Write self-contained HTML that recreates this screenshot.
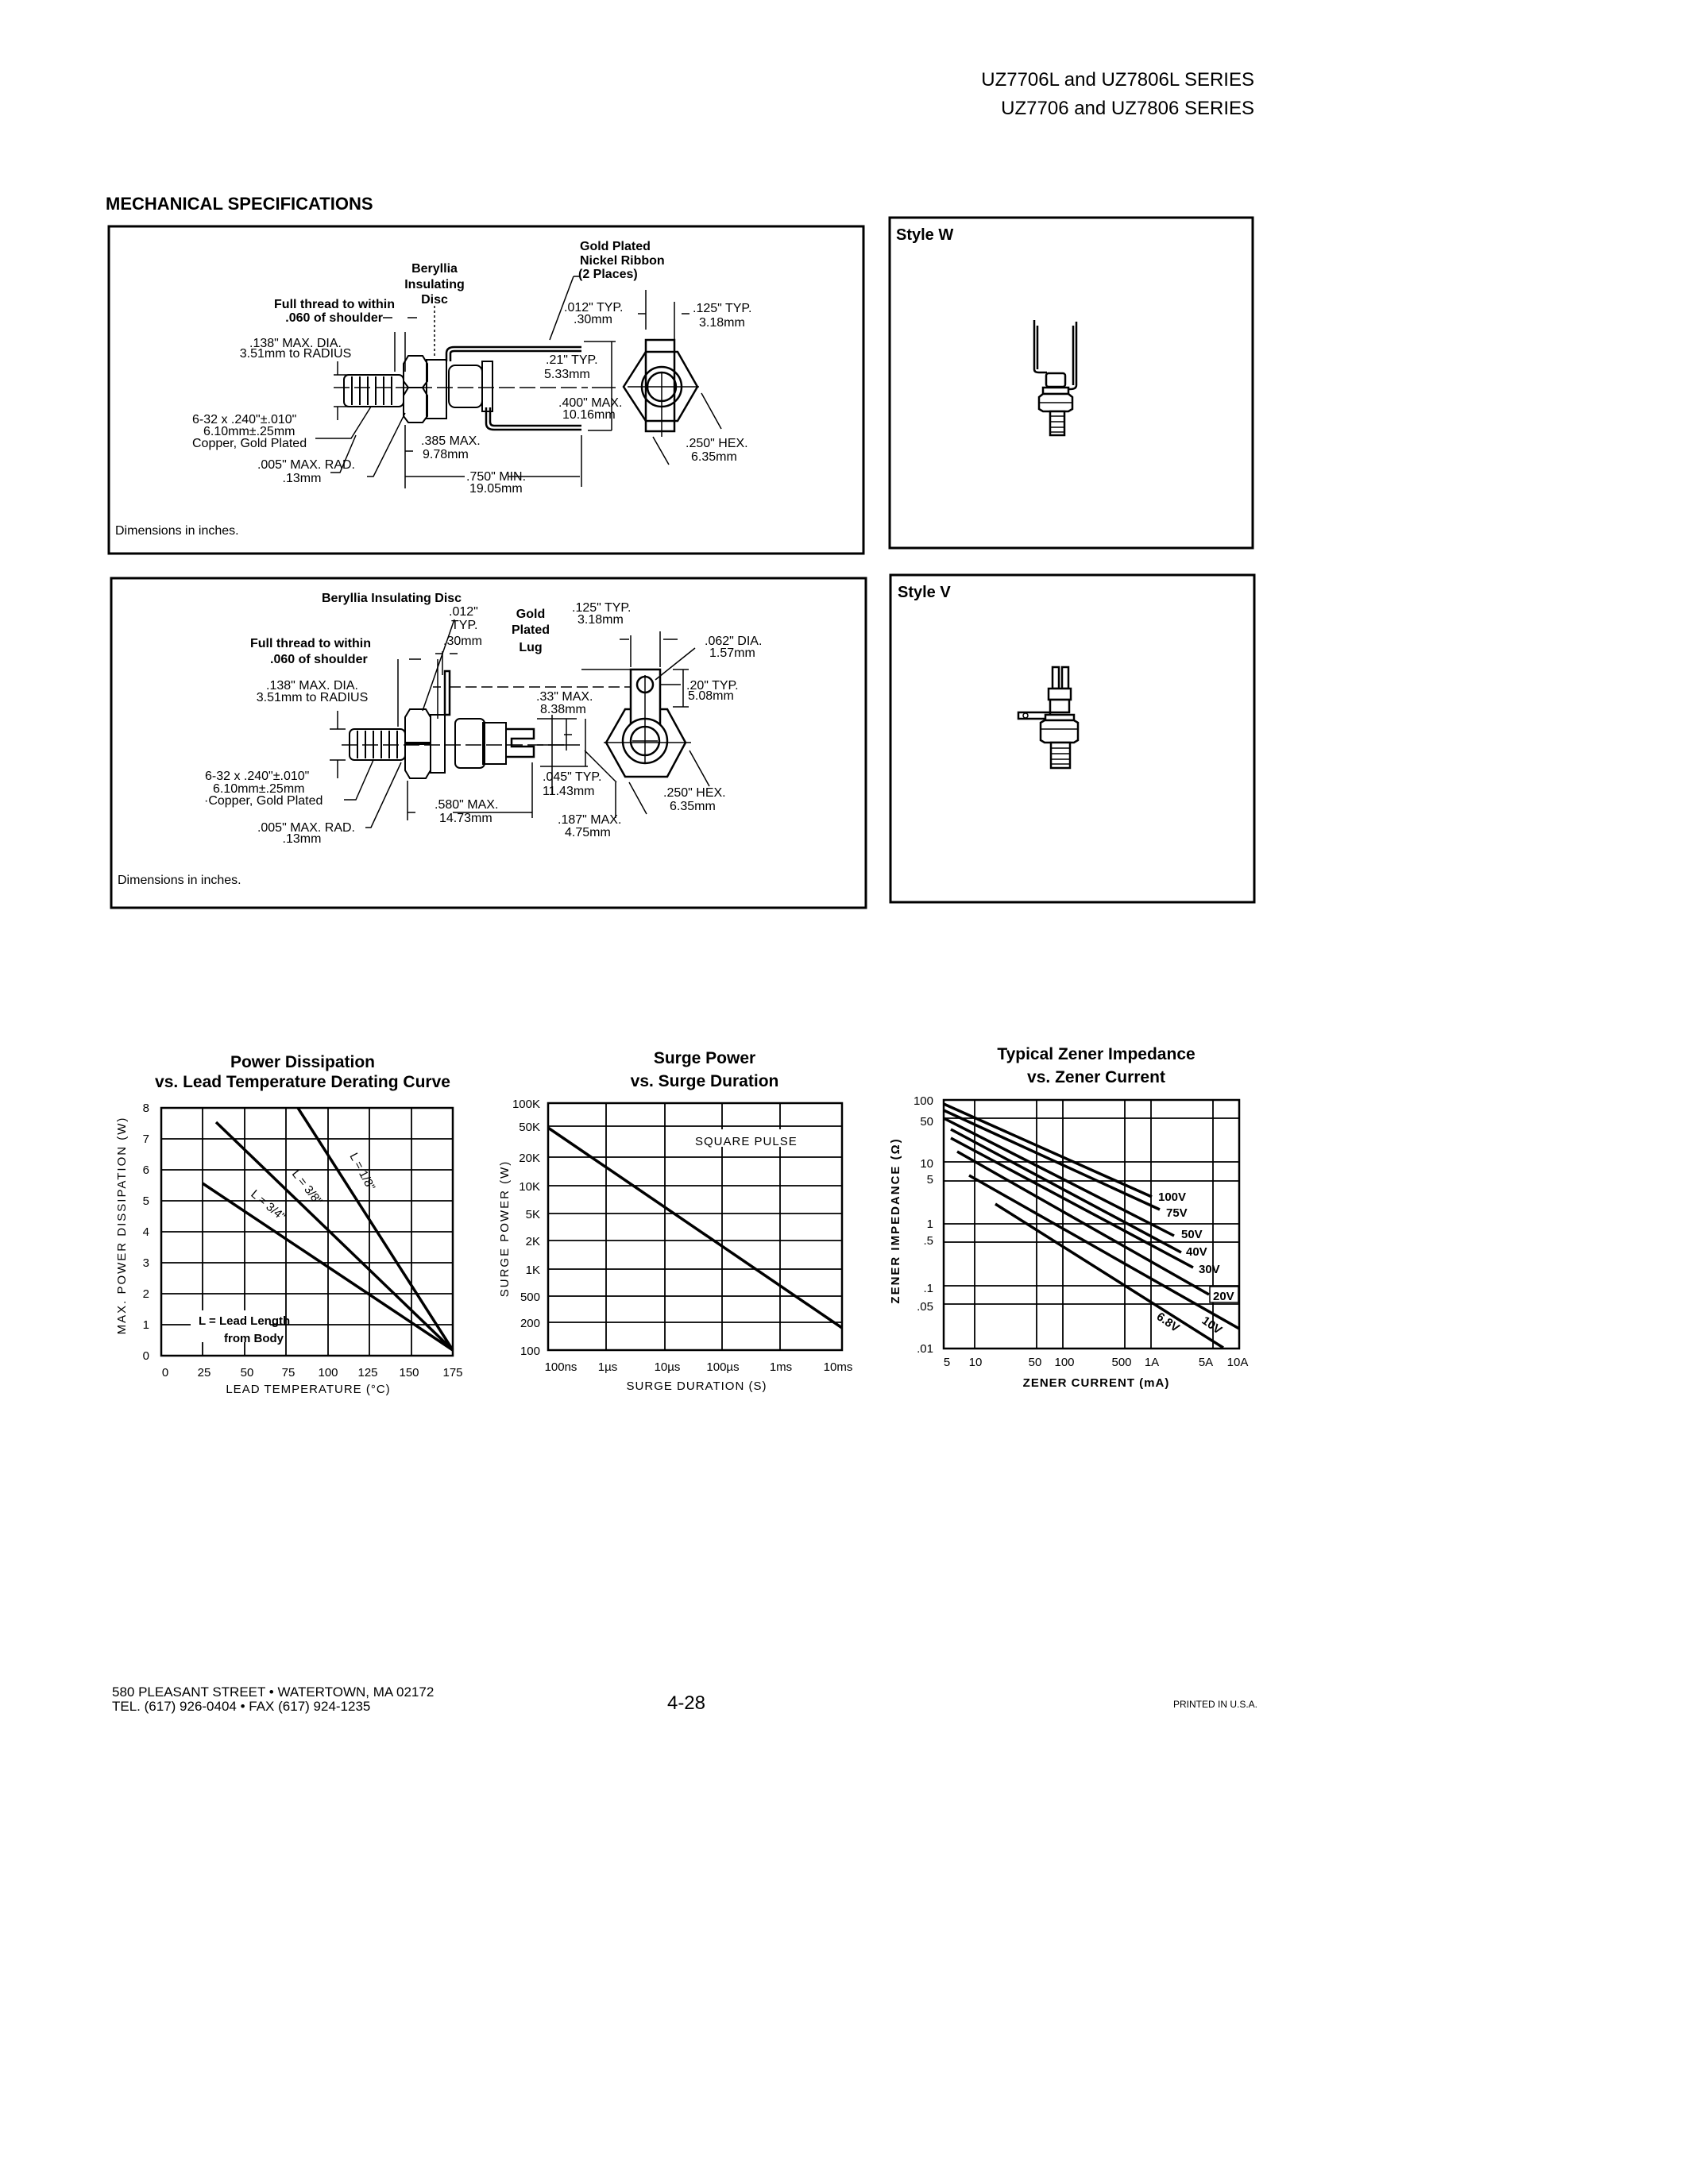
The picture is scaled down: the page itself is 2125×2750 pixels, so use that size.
<!DOCTYPE html>
<html><head><meta charset="utf-8"><style>
html,body{margin:0;padding:0;background:#fff}
svg{display:block}
text{font-family:"Liberation Sans Narrow","Liberation Sans",sans-serif;fill:#000}
.b{font-weight:bold}
.s{font-size:16px}
.t{font-size:15px}
</style></head><body>
<svg width="2125" height="2750" viewBox="0 0 2125 2750" xmlns="http://www.w3.org/2000/svg">
<rect width="2125" height="2750" fill="#fff"/>
<!-- header -->
<text x="1579" y="108" font-size="24" text-anchor="end">UZ7706L and UZ7806L SERIES</text>
<text x="1579" y="144" font-size="24" text-anchor="end">UZ7706  and UZ7806  SERIES</text>
<text x="133" y="264" font-size="22" class="b">MECHANICAL SPECIFICATIONS</text>

<!-- boxes -->
<g fill="none" stroke="#000" stroke-width="3">
<rect x="137" y="285" width="950" height="412"/>
<rect x="1120" y="274" width="457" height="416"/>
<rect x="140" y="728" width="950" height="415"/>
<rect x="1121" y="724" width="458" height="412"/>
</g>
<text x="1128" y="302" font-size="20" class="b">Style W</text>
<text x="1130" y="752" font-size="20" class="b">Style V</text>
<text x="145" y="673" class="s">Dimensions in inches.</text>
<text x="148" y="1113" class="s">Dimensions in inches.</text>

<!-- BOX 1 drawing -->
<g fill="none" stroke="#000" stroke-width="2">
<rect x="433" y="472" width="75" height="40" rx="6"/>
<path d="M443 474v36M453 474v36M463 474v36M473 474v36M483 474v36M493 474v36"/>
<path d="M514 448h18l6 10v22l-6 8h-18l-6-8v-22z"/>
<path d="M514 488h18l6 10v26l-6 8h-18l-6-8v-26z"/>
<rect x="537" y="453" width="25" height="74"/>
<rect x="565" y="460" width="42" height="53" rx="8"/>
<rect x="607" y="455" width="13" height="63"/>
<path d="M562 455v-10q0-8 10-8h160M567 455v-10q0-3 5-3h160" stroke-width="2.5"/>
<path d="M612 513v20q0 8 10 8h110M617 513v18q0 5 5 5h110" stroke-width="2.5"/>
<path d="M420 488h320" stroke-dasharray="20,6" stroke-width="1.5"/>
<path d="M420 472h20M420 512h20M425 455v17M425 529v-17" stroke-width="1.5"/>
<path d="M497 418v50M510 418v50M482 400h12M513 400h12" stroke-width="1.5"/>
<path d="M547 385v65" stroke-dasharray="3,3" stroke-width="1.5"/>
<path d="M448 548l-20 47h-12M510 520l-40 80h-8M467 512l-25 40h-45" stroke-width="1.5"/>
<path d="M510 535v80M510 568h10M510 600h75M732 548v65M640 600h90" stroke-width="1.5"/>
<path d="M722 348l-30 80M722 348h8" stroke-width="1.5"/>
<!-- right view -->
<path d="M785 487l28-44h40l25 44-25 43h-40z" stroke-width="2.5"/>
<rect x="813" y="428" width="36" height="115" stroke-width="2.5"/>
<circle cx="833" cy="487" r="25" stroke-width="2.5"/>
<circle cx="833" cy="487" r="18" stroke-width="2.5"/>
<path d="M790 487h90M833 470v80" stroke-width="1.5"/>
<path d="M813 365v50M849 380v50M803 395h10M858 395h10" stroke-width="1.5"/>
<path d="M735 430h40M770 430v112M740 542h30M745 488h30" stroke-width="1.5"/>
<path d="M883 495l25 45M822 550l20 35" stroke-width="1.5"/>
</g>
<g class="s">
<text x="547" y="343" text-anchor="middle" class="b">Beryllia</text>
<text x="547" y="363" text-anchor="middle" class="b">Insulating</text>
<text x="547" y="382" text-anchor="middle" class="b">Disc</text>
<text x="497" y="388" text-anchor="end" class="b">Full thread to within</text>
<text x="482" y="405" text-anchor="end" class="b">.060 of shoulder</text>
<text x="372" y="437" text-anchor="middle">.138" MAX. DIA.</text>
<text x="372" y="450" text-anchor="middle">3.51mm to RADIUS</text>
<text x="242" y="533">6-32 x .240"±.010"</text>
<text x="256" y="548">6.10mm±.25mm</text>
<text x="242" y="563">Copper, Gold Plated</text>
<text x="447" y="590" text-anchor="end">.005" MAX. RAD.</text>
<text x="380" y="607" text-anchor="middle">.13mm</text>
<text x="530" y="560">.385 MAX.</text>
<text x="532" y="577">9.78mm</text>
<text x="587" y="605">.750" MIN.</text>
<text x="591" y="620">19.05mm</text>
<text x="730" y="315" class="b">Gold Plated</text>
<text x="730" y="333" class="b">Nickel Ribbon</text>
<text x="728" y="350" class="b">(2 Places)</text>
<text x="710" y="392">.012" TYP.</text>
<text x="722" y="407">.30mm</text>
<text x="872" y="393">.125" TYP.</text>
<text x="880" y="411">3.18mm</text>
<text x="687" y="458">.21" TYP.</text>
<text x="685" y="476">5.33mm</text>
<text x="703" y="512">.400" MAX.</text>
<text x="708" y="527">10.16mm</text>
<text x="863" y="563">.250" HEX.</text>
<text x="870" y="580">6.35mm</text>
</g>

<!-- BOX 2 drawing -->
<g fill="none" stroke="#000" stroke-width="2">
<rect x="440" y="918" width="70" height="39" rx="6"/>
<path d="M450 920v35M460 920v35M470 920v35M480 920v35M490 920v35M500 920v35"/>
<path d="M516 893h20l6 10v32h-32v-32z"/>
<path d="M510 937h32v33l-6 10h-20l-6-10z"/>
<rect x="542" y="900" width="18" height="73"/>
<rect x="560" y="845" width="6" height="55" stroke-width="2.5"/>
<rect x="573" y="905" width="37" height="62" rx="6"/>
<rect x="608" y="910" width="29" height="52"/>
<path d="M637 918h35v12h-28v10h28v13h-35" stroke-width="2.5"/>
<path d="M430 938h300" stroke-dasharray="20,6" stroke-width="1.5"/>
<path d="M415 918h20M415 957h20M425 895v23M425 980v-23" stroke-width="1.5"/>
<path d="M501 830v85M551 830v75M515 830h15M548 823h10M566 823h10M557 820v30" stroke-width="1.5"/>
<path d="M545 865h10M566 865h230" stroke-dasharray="14,6" stroke-width="1.5"/>
<path d="M572 780l-40 115" stroke-width="1.5"/>
<path d="M470 957l-22 50h-15M505 960l-38 82h-7" stroke-width="1.5"/>
<path d="M513 983v50M513 1023h10M570 1023h100M670 960v70" stroke-width="1.5"/>
<path d="M676 905h50M713 905v40M710 925h10M737 905v60M676 938h40M680 965h60M695 900l0 100M736 945l40 40M775 985v45" stroke-width="1.5"/>
<!-- right view -->
<path d="M763 935l24-42h53l23 42-23 43h-53z" stroke-width="2.5"/>
<rect x="794" y="843" width="37" height="74" stroke-width="2.5" fill="#fff"/>
<circle cx="812" cy="862" r="10" stroke-width="2.5"/>
<circle cx="812" cy="933" r="28" stroke-width="2.5" fill="#fff"/>
<circle cx="812" cy="933" r="18" stroke-width="2.5"/>
<path d="M796 933h32M760 935h110M812 850v110" stroke-width="1.5"/>
<path d="M794 800v40M831 795v45M780 805h12M835 805h18M832 862h25M732 843h95M847 843h20M847 890h20M860 843v47" stroke-width="1.5"/>
<path d="M825 856l50-40M868 945l25 45M792 985l22 40" stroke-width="1.5"/>
</g>
<g class="s">
<text x="405" y="758" class="b">Beryllia Insulating Disc</text>
<text x="565" y="775">.012"</text>
<text x="568" y="792">TYP.</text>
<text x="558" y="812">.30mm</text>
<text x="315" y="815" class="b">Full thread to within</text>
<text x="340" y="835" class="b">.060 of shoulder</text>
<text x="393" y="868" text-anchor="middle">.138" MAX. DIA.</text>
<text x="393" y="883" text-anchor="middle">3.51mm to RADIUS</text>
<text x="258" y="982">6-32 x .240"±.010"</text>
<text x="268" y="998">6.10mm±.25mm</text>
<text x="257" y="1013">·Copper, Gold Plated</text>
<text x="447" y="1047" text-anchor="end">.005" MAX. RAD.</text>
<text x="380" y="1061" text-anchor="middle">.13mm</text>
<text x="547" y="1018">.580" MAX.</text>
<text x="553" y="1035">14.73mm</text>
<text x="668" y="778" text-anchor="middle" class="b">Gold</text>
<text x="668" y="798" text-anchor="middle" class="b">Plated</text>
<text x="668" y="820" text-anchor="middle" class="b">Lug</text>
<text x="720" y="770">.125" TYP.</text>
<text x="727" y="785">3.18mm</text>
<text x="887" y="812">.062" DIA.</text>
<text x="893" y="827">1.57mm</text>
<text x="864" y="868">.20" TYP.</text>
<text x="866" y="881">5.08mm</text>
<text x="675" y="882">.33" MAX.</text>
<text x="680" y="898">8.38mm</text>
<text x="683" y="983">.045" TYP.</text>
<text x="683" y="1001">11.43mm</text>
<text x="702" y="1037">.187" MAX.</text>
<text x="711" y="1053">4.75mm</text>
<text x="835" y="1003">.250" HEX.</text>
<text x="843" y="1020">6.35mm</text>
</g>

<!-- Style W device -->
<g fill="#fff" stroke="#000" stroke-width="2.5">
<path d="M1302 403v62q0 4 6 4h10M1306 410v55" fill="none"/>
<path d="M1355 405v80q0 5-8 5h-6M1351 410v75" fill="none"/>
<rect x="1317" y="470" width="24" height="17" rx="3"/>
<rect x="1313" y="488" width="32" height="8"/>
<path d="M1308 500l5-4h32l5 4v15l-5 3h-32l-5-3z"/>
<rect x="1322" y="518" width="18" height="30"/>
<path d="M1322 524h18M1322 531h18M1322 538h18M1322 544h18M1308 507h42" fill="none" stroke-width="1.5"/>
</g>
<!-- Style V device -->
<g fill="#fff" stroke="#000" stroke-width="2.5">
<rect x="1325" y="840" width="8" height="27"/>
<rect x="1337" y="840" width="8" height="27"/>
<rect x="1320" y="867" width="28" height="14"/>
<rect x="1322" y="881" width="24" height="16"/>
<path d="M1282 897h40v8h-40z"/>
<circle cx="1291" cy="901" r="3" stroke-width="1.5"/>
<path d="M1316 900h36v7h-36z"/>
<path d="M1310 910l5-3h37l5 3v22l-5 3h-37l-5-3z"/>
<rect x="1323" y="935" width="24" height="32"/>
<path d="M1323 942h24M1323 949h24M1323 956h24M1323 962h24M1310 918h47" fill="none" stroke-width="1.5"/>
</g>

<!-- CHART 1 -->
<g fill="none" stroke="#000">
<rect x="203" y="1395" width="367" height="312" stroke-width="2.5"/>
<g stroke-width="1.8">
<path d="M255 1395v312M308 1395v312M360 1395v312M413 1395v312M465 1395v312M518 1395v312"/>
<path d="M203 1668h367M203 1629h367M203 1590h367M203 1551h367M203 1512h367M203 1473h367M203 1434h367"/>
</g>
<g stroke-width="3.5">
<path d="M375 1395L570 1700M272 1413L570 1700M255 1490L570 1700"/>
</g>
</g>
<rect x="240" y="1650" width="100" height="40" fill="#fff"/>
<text x="250" y="1668" class="t b">L = Lead Length</text>
<text x="282" y="1690" class="t b">from Body</text>
<text x="440" y="1455" class="t" transform="rotate(62 440 1455)">L = 1/8"</text>
<text x="367" y="1478" class="t" transform="rotate(52 367 1478)">L = 3/8"</text>
<text x="315" y="1505" class="t" transform="rotate(40 315 1505)">L = 3/4"</text>
<g class="t" text-anchor="end">
<text x="188" y="1400">8</text><text x="188" y="1439">7</text><text x="188" y="1478">6</text><text x="188" y="1517">5</text>
<text x="188" y="1556">4</text><text x="188" y="1595">3</text><text x="188" y="1634">2</text><text x="188" y="1673">1</text><text x="188" y="1712">0</text>
</g>
<g class="t" text-anchor="middle">
<text x="208" y="1733">0</text><text x="257" y="1733">25</text><text x="311" y="1733">50</text><text x="363" y="1733">75</text>
<text x="413" y="1733">100</text><text x="463" y="1733">125</text><text x="515" y="1733">150</text><text x="570" y="1733">175</text>
<text x="388" y="1754" letter-spacing="1">LEAD TEMPERATURE (°C)</text>
<text x="0" y="0" letter-spacing="2" transform="translate(158 1543) rotate(-90)">MAX. POWER DISSIPATION (W)</text>
</g>
<text x="381" y="1344" font-size="21" class="b" text-anchor="middle">Power Dissipation</text>
<text x="381" y="1369" font-size="21" class="b" text-anchor="middle">vs. Lead Temperature Derating Curve</text>

<!-- CHART 2 -->
<g fill="none" stroke="#000">
<rect x="690" y="1389" width="370" height="311" stroke-width="2.5"/>
<g stroke-width="1.8">
<path d="M763 1389v311M837 1389v311M909 1389v311M982 1389v311"/>
<path d="M690 1418h370M690 1457h370M690 1493h370M690 1528h370M690 1562h370M690 1598h370M690 1632h370M690 1665h370"/>
</g>
<path d="M690 1420L1060 1672" stroke-width="3.5"/>
</g>
<rect x="872" y="1422" width="150" height="22" fill="#fff"/>
<text x="875" y="1442" class="t" letter-spacing="1">SQUARE PULSE</text>
<g class="t" text-anchor="end">
<text x="680" y="1395">100K</text><text x="680" y="1424">50K</text><text x="680" y="1463">20K</text><text x="680" y="1499">10K</text>
<text x="680" y="1534">5K</text><text x="680" y="1568">2K</text><text x="680" y="1604">1K</text><text x="680" y="1638">500</text>
<text x="680" y="1671">200</text><text x="680" y="1706">100</text>
</g>
<g class="t" text-anchor="middle">
<text x="706" y="1726">100ns</text><text x="765" y="1726">1µs</text><text x="840" y="1726">10µs</text>
<text x="910" y="1726">100µs</text><text x="983" y="1726">1ms</text><text x="1055" y="1726">10ms</text>
<text x="877" y="1750" letter-spacing="1">SURGE DURATION (S)</text>
<text x="0" y="0" letter-spacing="2" transform="translate(640 1547) rotate(-90)">SURGE POWER (W)</text>
</g>
<text x="887" y="1339" font-size="21" class="b" text-anchor="middle">Surge Power</text>
<text x="887" y="1368" font-size="21" class="b" text-anchor="middle">vs. Surge Duration</text>

<!-- CHART 3 -->
<g fill="none" stroke="#000">
<rect x="1188" y="1385" width="372" height="313" stroke-width="2.5"/>
<g stroke-width="1.8">
<path d="M1227 1385v313M1305 1385v313M1338 1385v313M1416 1385v313M1449 1385v313M1527 1385v313"/>
<path d="M1188 1408h372M1188 1463h372M1188 1487h372M1188 1541h372M1188 1564h372M1188 1619h372M1188 1642h372"/>
</g>
<g stroke-width="3.5">
<path d="M1188 1390L1450 1507M1188 1398L1460 1523M1188 1408L1478 1556M1197 1422L1487 1577M1197 1433L1502 1596M1205 1450L1522 1630M1220 1480L1560 1673M1253 1516L1540 1697"/>
</g>
</g>
<g class="t b">
<text x="1458" y="1512">100V</text><text x="1468" y="1532">75V</text><text x="1487" y="1559">50V</text>
<text x="1493" y="1581">40V</text><text x="1509" y="1603">30V</text>
<rect x="1523" y="1620" width="36" height="20" fill="#fff" stroke="#000" stroke-width="1.5"/>
<text x="1527" y="1637">20V</text>
<text x="1512" y="1665" transform="rotate(35 1512 1665)">10V</text>
<text x="1455" y="1660" transform="rotate(35 1455 1660)">6.8V</text>
</g>
<g class="t" text-anchor="end">
<text x="1175" y="1391">100</text><text x="1175" y="1417">50</text><text x="1175" y="1470">10</text><text x="1175" y="1490">5</text>
<text x="1175" y="1546">1</text><text x="1175" y="1567">.5</text><text x="1175" y="1627">.1</text><text x="1175" y="1650">.05</text><text x="1175" y="1703">.01</text>
</g>
<g class="t" text-anchor="middle">
<text x="1192" y="1720">5</text><text x="1228" y="1720">10</text><text x="1303" y="1720">50</text><text x="1340" y="1720">100</text>
<text x="1412" y="1720">500</text><text x="1450" y="1720">1A</text><text x="1518" y="1720">5A</text><text x="1558" y="1720">10A</text>
<text x="1380" y="1746" class="b" letter-spacing="1">ZENER CURRENT (mA)</text>
<text x="0" y="0" letter-spacing="2" class="b" transform="translate(1132 1537) rotate(-90)">ZENER IMPEDANCE (Ω)</text>
</g>
<text x="1380" y="1334" font-size="21" class="b" text-anchor="middle">Typical Zener Impedance</text>
<text x="1380" y="1363" font-size="21" class="b" text-anchor="middle">vs. Zener Current</text>

<!-- footer -->
<text x="141" y="2136" font-size="17">580 PLEASANT STREET • WATERTOWN, MA 02172</text>
<text x="141" y="2154" font-size="17">TEL. (617) 926-0404 • FAX (617) 924-1235</text>
<text x="864" y="2152" font-size="24" text-anchor="middle">4-28</text>
<text x="1583" y="2150" font-size="12" text-anchor="end">PRINTED IN U.S.A.</text>
</svg>
</body></html>
